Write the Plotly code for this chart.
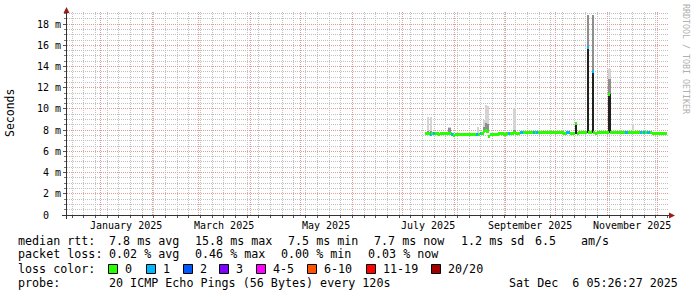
import math
import pandas as pd
import plotly.graph_objects as go

# ---------------- data ----------------
first_day = "2025-07-15"          # first day with measurements (one value per day)
median_ms = [
    7.65, 7.65, 7.65, 7.6, 7.65, 7.65, 7.65, 7.65, 7.6, 7.65,
    7.65, 7.65, 7.65, 7.65, 7.7, 7.65, 7.6, 7.5, 7.55, 7.6,
    7.6, 7.6, 7.6, 7.6, 7.6, 7.6, 7.6, 7.6, 7.6, 7.6,
    7.55, 7.55, 7.6, 7.65, 7.7, 7.85, 7.95, 7.85, 7.45, 7.6,
    7.6, 7.6, 7.6, 7.6, 7.65, 7.65, 7.65, 7.6, 7.6, 7.65,
    7.65, 7.7, 7.7, 7.75, 7.65, 7.65, 7.7, 7.75, 7.75, 7.75,
    7.75, 7.75, 7.8, 7.75, 7.75, 7.75, 7.8, 7.75, 7.75, 7.75,
    7.8, 7.8, 7.75, 7.75, 7.8, 7.8, 7.75, 7.75, 7.75, 7.8,
    7.75, 7.75, 7.75, 7.7, 7.7, 7.75, 7.75, 7.65, 7.65, 7.65,
    8.6, 7.7, 7.75, 7.75, 7.75, 7.75, 7.75, 15.8, 7.75, 7.75,
    13.5, 7.75, 7.7, 7.75, 7.75, 7.75, 7.75, 7.75, 7.75, 7.75,
    11.4, 7.75, 7.75, 7.75, 7.75, 7.75, 7.75, 7.8, 7.8, 7.75,
    7.75, 7.75, 7.75, 7.75, 7.75, 7.75, 7.75, 7.75, 7.75, 7.75,
    7.75, 7.75, 7.75, 7.75, 7.75, 7.75, 7.7, 7.7, 7.7, 7.7,
    7.7, 7.7, 7.7, 7.7, 7.7,
]
# days (index from first_day) with lost pings, and how many of 20 were lost
loss_days = [3, 5, 16, 31, 33, 50, 57, 58, 65, 67, 85, 86, 97, 100, 120, 121, 129, 131, 133, 134]
loss_pings = [1, 1, 1, 1, 1, 1, 1, 1, 1, 1, 1, 1, 1, 1, 1, 1, 1, 1, 1, 1]

# smoke (spread of the 20 pings) on days where it is visible
smoke_days = [1, 3, 14, 31, 35, 36, 37, 53, 90, 97, 100, 110, 124]
smoke_dense_ms = [7.9, 7.9, 8.25, 7.75, 8.3, 8.7, 8.6, 8.0, 8.6, 18.9, 18.9, 12.8, 7.9]
smoke_max_ms = [9.2, 9.2, 8.3, 8.3, 9.0, 10.4, 10.3, 10.1, 8.7, 18.9, 18.9, 13.8, 8.6]

loss_labels = ["0", "1", "2", "3", "4-5", "6-10", "11-19", "20/20"]
loss_upper = [0, 1, 2, 3, 5, 10, 19, 20]
loss_colors = ["#26ff00", "#00b8ff", "#0059ff", "#7e00ff", "#ff00ff", "#ff5500", "#ff0000", "#a00000"]

label_months = ["2025-01-01", "2025-03-01", "2025-05-01", "2025-07-01", "2025-09-01", "2025-11-01"]
label_texts = ["January 2025", "March 2025", "May 2025", "July 2025", "September 2025", "November 2025"]
y_ticks = [0, 2, 4, 6, 8, 10, 12, 14, 16, 18]
y_tick_texts = ["0  ", "2 m", "4 m", "6 m", "8 m", "10 m", "12 m", "14 m", "16 m", "18 m"]

rtt_stats = ["7.8 ms avg", "15.8 ms max", "7.5 ms min", "7.7 ms now", "1.2 ms sd", "6.5", "am/s"]
loss_stats = ["0.02 % avg", "0.46 % max", "0.00 % min", "0.03 % now"]
probe_text = "20 ICMP Echo Pings (56 Bytes) every 120s"
stamp_text = "Sat Dec  6 05:26:27 2025"

x_start = "2024-12-12 05:17"
x_end = "2025-12-07 12:43"
y_max = 19.15

# ---------------- layout constants ----------------
W, H = 697, 297
L, R, T, B = 67, 668, 12, 215
MONO = "DejaVu Sans Mono"
DAY_MS = 86400000


def PX(x):
    return (x - L) / (R - L)


def PY(y):
    return (B - y) / (B - T)


def nb(s):
    return s.replace(" ", "\u00a0")


t0, t1 = pd.Timestamp(x_start), pd.Timestamp(x_end)
span = t1 - t0


def snap_t(t):
    """move a grid time onto the centre of its pixel column (crisp 1px line)"""
    px = L + (t - t0) / span * (R - L)
    return (t0 + (round(px) + 0.5 - L) / (R - L) * span).round("s")


def snap_v(v):
    if v == 0:
        return 0
    py = B - v / y_max * (B - T)
    return (B - (math.floor(py) + 0.5)) / (B - T) * y_max


days = pd.date_range(first_day, periods=len(median_ms), freq="D") + pd.Timedelta(hours=12)
loss_full = [0] * len(median_ms)
for d, p in zip(loss_days, loss_pings):
    loss_full[d] = p


def loss_color(p):
    for up, c in zip(loss_upper, loss_colors):
        if p <= up:
            return c
    return loss_colors[-1]


fig = go.Figure()

# light smoke
fig.add_trace(go.Bar(
    x=[days[d] for d in smoke_days],
    base=[median_ms[d] for d in smoke_days],
    y=[max(0, m - median_ms[d]) for d, m in zip(smoke_days, smoke_max_ms)],
    width=DAY_MS * 1.3, marker=dict(color="#d4d4d4", line=dict(width=0)),
    hoverinfo="skip", showlegend=False))
# dense smoke
fig.add_trace(go.Bar(
    x=[days[d] for d in smoke_days],
    base=[median_ms[d] for d in smoke_days],
    y=[max(0, m - median_ms[d]) for d, m in zip(smoke_days, smoke_dense_ms)],
    width=DAY_MS * 1.3, marker=dict(color="#8e8e8e", line=dict(width=0)),
    hoverinfo="skip", showlegend=False))

# dark columns where the median jumps far above its neighbours
jx, jb, jy = [], [], []
for i, m in enumerate(median_ms):
    nbrs = [median_ms[j] for j in (i - 1, i + 1) if 0 <= j < len(median_ms)]
    lo = min(nbrs)
    if m - lo > 0.5:
        jx.append(days[i]); jb.append(lo); jy.append(m - lo)
fig.add_trace(go.Bar(x=jx, base=jb, y=jy, width=DAY_MS * 1.5,
                     marker=dict(color="#202020", line=dict(width=0)),
                     hoverinfo="skip", showlegend=False))

# median line, coloured by packet loss
thick = 0.28
fig.add_trace(go.Bar(
    x=list(days), base=[m - thick / 2 for m in median_ms], y=[thick] * len(median_ms),
    width=DAY_MS * 1.05, marker=dict(color=[loss_color(p) for p in loss_full], line=dict(width=0)),
    hoverinfo="skip", showlegend=False))

month_starts = [snap_t(t).strftime("%Y-%m-%d %H:%M:%S")
                for t in pd.date_range("2025-01-01", x_end, freq="MS")]
weeks = [snap_t(t).strftime("%Y-%m-%d %H:%M:%S")
         for t in pd.date_range("2024-12-15", x_end, freq="W-SUN")]
lm = pd.to_datetime(label_months)
label_pos = [(m + (m + pd.offsets.MonthBegin(1) - m) / 2).strftime("%Y-%m-%d %H:%M:%S") for m in lm]
y_major = [snap_v(v) for v in y_ticks]
y_minor = [snap_v(k * 0.5) for k in range(1, 39)]

minor_grid = "#c0c0c0"
major_grid = "#e39c9c"

fig.update_layout(
    width=W, height=H,
    margin=dict(l=L, r=W - R, t=T, b=H - B, autoexpand=False, pad=0),
    paper_bgcolor="white", plot_bgcolor="white",
    barmode="overlay", bargap=0,
    showlegend=False,
    font=dict(family=MONO, size=10, color="#000"),
    xaxis=dict(
        type="date", range=[x_start, x_end], fixedrange=True,
        tickmode="array", tickvals=month_starts, ticktext=[""] * len(month_starts),
        ticks="", showgrid=True, gridcolor=major_grid, griddash="1px,1px", gridwidth=1,
        zeroline=False, showline=False,
        minor=dict(tickmode="array", tickvals=weeks, showgrid=True,
                   gridcolor=minor_grid, griddash="1px,1px", gridwidth=1,
                   ticks="outside", ticklen=2, tickcolor="#555"),
    ),
    yaxis=dict(
        range=[0, y_max], fixedrange=True,
        tickmode="array", tickvals=y_major, ticktext=[nb(t) for t in y_tick_texts],
        ticks="outside", ticklen=3, tickcolor="#555",
        showgrid=True, gridcolor=major_grid, griddash="1px,1px", gridwidth=1,
        zeroline=False, showline=False,
        tickfont=dict(family=MONO, size=10, color="#000"),
        minor=dict(tickmode="array", tickvals=y_minor, showgrid=True,
                   gridcolor=minor_grid, griddash="1px,1px", gridwidth=1,
                   ticks="outside", ticklen=2, tickcolor="#777"),
    ),
)

shapes = []
axis_col = "#333333"
arrow_col = "#9b1c1c"
# axis lines
shapes.append(dict(type="line", xref="paper", yref="paper", x0=PX(62), x1=PX(670),
                   y0=PY(215.5), y1=PY(215.5), line=dict(color=axis_col, width=1)))
shapes.append(dict(type="line", xref="paper", yref="paper", x0=PX(66.5), x1=PX(66.5),
                   y0=PY(219), y1=PY(12), line=dict(color=axis_col, width=1)))
# arrows
shapes.append(dict(type="path", xref="paper", yref="paper",
                   path=f"M {PX(63.5)},{PY(13)} L {PX(69.5)},{PY(13)} L {PX(66.5)},{PY(7)} Z",
                   fillcolor=arrow_col, line=dict(width=0)))
shapes.append(dict(type="path", xref="paper", yref="paper",
                   path=f"M {PX(669)},{PY(212.5)} L {PX(669)},{PY(218.5)} L {PX(675)},{PY(215.5)} Z",
                   fillcolor=arrow_col, line=dict(width=0)))

ann = []


def text(x, y, s, size=11.7, anchor="left", color="#000"):
    ann.append(dict(x=PX(x), y=PY(y), xref="paper", yref="paper", xanchor=anchor,
                    yanchor="middle", text=nb(s), showarrow=False,
                    font=dict(family=MONO, size=size, color=color)))


# month labels (centred in their month)
for pos, lab in zip(label_pos, label_texts):
    ann.append(dict(x=pos, y=PY(225), xref="x", yref="paper", xanchor="center",
                    yanchor="middle", text=lab, showarrow=False,
                    font=dict(family=MONO, size=10, color="#000")))

# y-axis title and watermark
ann.append(dict(x=PX(10), y=PY(113), xref="paper", yref="paper", text="Seconds",
                textangle=-90, showarrow=False, xanchor="center", yanchor="middle",
                font=dict(family=MONO, size=11.5, color="#000")))
ann.append(dict(x=PX(686), y=PY(59), xref="paper", yref="paper", text=nb("RRDTOOL / TOBI OETIKER"),
                textangle=90, showarrow=False, xanchor="center", yanchor="middle",
                font=dict(family=MONO, size=8.3, color="#b0b0b0")))

# legend lines
y1, y2, y3, y4 = 240.5, 254.5, 268.7, 282.5
text(16, y1, "median rtt:")
for x, s in zip([107.3, 192.7, 286, 372.3, 459, 532.7, 579.3], rtt_stats):
    text(x, y1, s)
text(16, y2, "packet loss:")
for x, s in zip([107.3, 192.7, 279.3, 365.7], loss_stats):
    text(x, y2, s)
text(16, y3, "loss color:")
box_x = [108, 146, 183, 219, 256, 307, 366, 431]
for bx, lab, col in zip(box_x, loss_labels, loss_colors):
    shapes.append(dict(type="rect", xref="paper", yref="paper",
                       x0=PX(bx + 0.5), x1=PX(bx + 9.5), y0=PY(273.5), y1=PY(264.5),
                       fillcolor=col, line=dict(color="#000", width=1)))
    text(bx + 15, y3, lab)
text(16, y4, "probe:")
text(107.3, y4, probe_text)
text(680, y4, stamp_text, anchor="right")

fig.update_layout(shapes=shapes, annotations=ann)
fig.write_html("out.html")
